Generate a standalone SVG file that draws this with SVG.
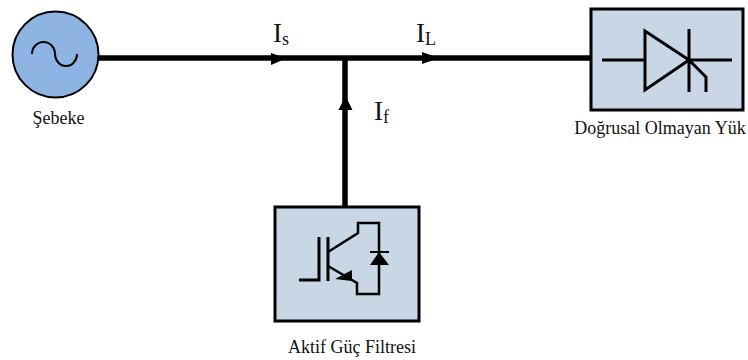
<svg xmlns="http://www.w3.org/2000/svg" width="748" height="360" viewBox="0 0 748 360">
<style>
text{font-family:"Liberation Serif","Times New Roman",serif;fill:#111}
.lbl{font-size:18px}
.cur{font-size:27px}
.sub{font-size:18px}
.box{fill:#c8d6e6;stroke:#000;stroke-width:3}
.sym{fill:none;stroke:#000;stroke-width:3}
.wire{fill:none;stroke:#000;stroke-width:5.500}
</style>
<rect width="748" height="360" fill="#fff"/>
<g id="connectors">
<path class="wire" d="M99 58H591"/>
<path class="wire" d="M345 58V208"/>
<polygon points="271,53 286,58.500 271,65"/>
<polygon points="422,52 439,58 422,64"/>
<polygon points="345.500,96 352.500,110 338.500,110"/>
</g>
<g id="source">
<circle cx="55.500" cy="54.500" r="43" fill="#8eb4e3" stroke="#000" stroke-width="2"/>
<path d="M32 54A11.500 12 0 0 1 55 54A11 12 0 0 0 77 54" fill="none" stroke="#000" stroke-width="2"/>
<text class="lbl" x="58.500" y="124" text-anchor="middle">Şebeke</text>
</g>
<g id="load">
<rect class="box" x="591" y="9" width="152" height="101"/>
<path class="sym" d="M602 60H645M645 31V90L689 60ZM689 60H732M689 29V92M689 60L706 77V92"/>
<text class="lbl" x="660" y="134" text-anchor="middle">Doğrusal Olmayan Yük</text>
</g>
<g id="filter">
<rect class="box" x="275" y="207" width="144" height="114"/>
<path d="M299 280H319V237M328 237V281" fill="none" stroke="#000" stroke-width="3"/>
<path d="M328 252L358 233V223H379V294H357V283L328 266" fill="none" stroke="#000" stroke-width="2.500"/>
<path d="M370 252H389" fill="none" stroke="#000" stroke-width="2"/>
<polygon points="379,252 370,265 389,265"/>
<polygon points="335,279 352,270 352,281"/>
<text class="lbl" x="352" y="353" text-anchor="middle">Aktif Güç Filtresi</text>
</g>
<g id="labels">
<text class="cur" x="273" y="42">I<tspan class="sub" dy="3">s</tspan></text>
<text class="cur" x="416" y="42">I<tspan class="sub" dy="3">L</tspan></text>
<text class="cur" x="374" y="120">I<tspan class="sub" dy="3">f</tspan></text>
</g>
</svg>
